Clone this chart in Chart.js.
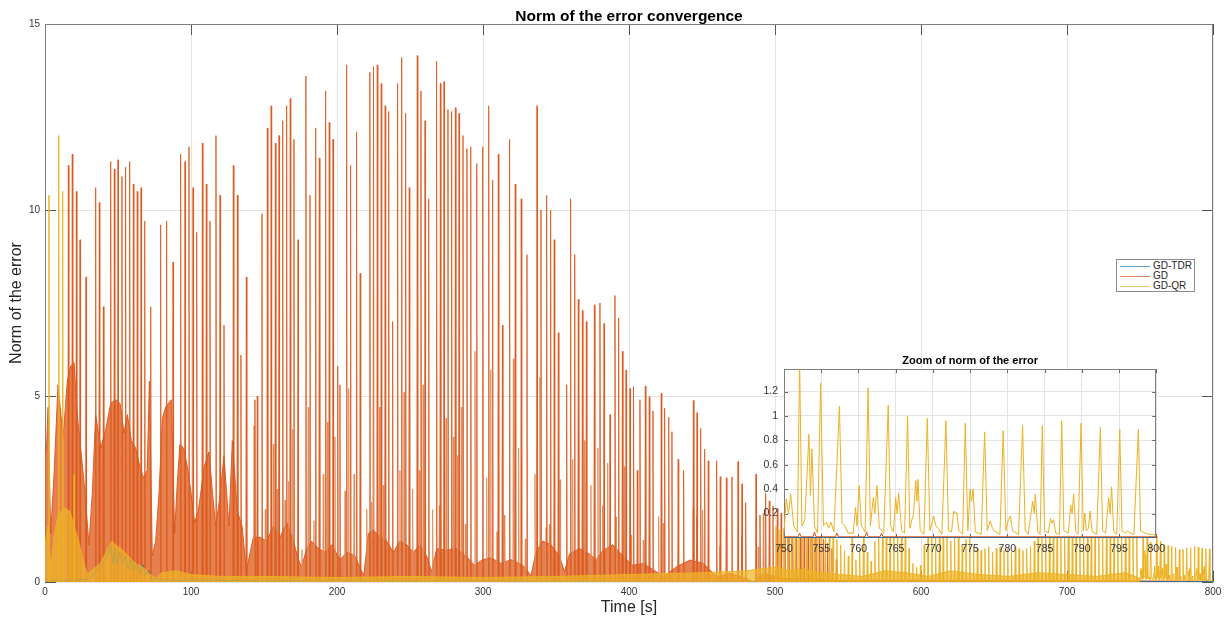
<!DOCTYPE html>
<html>
<head>
<meta charset="utf-8">
<script src="https://cdn.jsdelivr.net/npm/chart.js@4.4.0/dist/chart.umd.min.js"></script>
<style>
html,body{margin:0;padding:0;background:#fff;overflow:hidden}
#wrap{position:relative;width:1230px;height:617px}
#main{position:absolute;left:0;top:0;width:1230px;height:617px}
#inset{position:absolute;left:734px;top:348px;width:436px;height:216px}
#legend{position:absolute;left:1116px;top:259px;width:79px;height:33px;border:1px solid #8c8c8c;background:#fff;box-sizing:border-box;font-family:"Liberation Sans",Arial,sans-serif;font-size:10px;color:#262626}
#legend .row{position:absolute;left:3px;height:10px;line-height:10px;white-space:nowrap}
#legend .ln{display:inline-block;width:30px;height:0;border-top:1px solid;vertical-align:middle;margin-right:3px}
</style>
</head>
<body>
<div id="wrap">
<canvas id="main" width="1230" height="617"></canvas>
<canvas id="inset" width="436" height="216"></canvas>
<div id="legend">
  <div class="row" style="top:1px"><span class="ln" style="border-color:#5fa0d0"></span>GD-TDR</div>
  <div class="row" style="top:11px"><span class="ln" style="border-color:#d98a60"></span>GD</div>
  <div class="row" style="top:21px"><span class="ln" style="border-color:#f0cc70"></span>GD-QR</div>
</div>
</div>
<script>
// ---------------- DATA ----------------
const seriesNames = ['GD-TDR', 'GD', 'GD-QR'];
const xTicks = [0, 100, 200, 300, 400, 500, 600, 700, 800];
const yTicks = [0, 5, 10, 15];
const insetXTicks = [750, 755, 760, 765, 770, 775, 780, 785, 790, 795, 800];
const insetYTicks = [0.2, 0.4, 0.6, 0.8, 1, 1.2];

// GD: tall spikes (time, peak value)
const gdSpikeT = [16.0,18.7,21.5,24.0,28.1,34.7,37.2,40.0,45,47.5,50,52.7,55.2,58,60.5,63.2,65.8,68.3,72.4,79.2,83.3,87.7,92.9,95.9,98.6,101.4,103.9,107.8,110.5,113,117.1,119.9,122.6,129,131.8,134.2,137.9,143.8,145.4,148.6,152.3,154.9,157.8,160.3,162.8,165.5,168,170.5,173.3,178.7,181.5,185.4,187.9,192.2,194.7,197.3,200.5,202,206.6,209.3,213.4,215.9,222.5,225,227.6,230.3,233,235.4,238.1,241.5,244.3,247,249.5,255,257.5,260.3,262.8,268.2,270.8,273.3,276,278.5,281.1,283.6,286.3,289,291.6,295.7,299.8,303.9,306.6,310.5,313.3,318.2,322.1,326.2,330.1,337,339.7,343.6,346.3,348.8,351.6,357.3,360,362.8,365.3,368.1,370.8,376.3,380.1,382.9,387,390.4,392.9,395.5,398,400.7,403.1,405.7,407.5,411.2,413.9,416.4,422.1,424.4,427.2,429.4,433.7,437.4,444.1,446.6,449.1,451.8,454.3,460,462.5,466.7,470.5,474.7,477.4,479.9,487,489.7,493.6,496.1,498.6,501.6,504.2,506.8,509.5,512.1,514.8,517.4,520,522.7,525.3,528,530.6,533.3,536,539,542];
const gdSpikeV = [11.2,11.5,10.5,9.2,8.2,10.6,10.2,7.4,11.3,11.1,11.35,10.9,11.15,11.3,10.7,10.5,10.6,9.7,7.4,9.6,9.7,8.6,11.5,11.3,11.7,10.6,9.4,11.8,10.7,9.7,12.0,10.4,6.9,11.2,10.4,6.1,8.2,4.9,5.0,9.9,12.2,12.8,11.8,12.0,12.4,12.8,13.0,11.9,9.2,13.6,10.4,12.2,11.4,13.2,12.35,11.9,5.8,5.3,13.9,11.2,12.1,8.3,13.7,13.85,13.9,13.4,12.8,12.65,7.0,13.4,14.1,12.6,10.6,14.15,13.2,12.4,10.3,14.0,13.4,13.45,12.7,12.65,12.75,12.6,12.0,11.65,11.7,11.25,11.7,12.8,10.8,11.5,6.9,11.9,10.7,10.3,8.8,12.8,10.0,10.4,10.0,9.2,6.7,5.3,10.3,8.8,7.6,7.3,7.0,7.45,7.5,6.95,4.5,7.7,7.1,6.2,5.7,5.2,5.25,3.0,4.9,5.27,4.98,4.6,5.07,4.67,4.43,4.04,3.3,3.0,4.88,4.55,4.13,3.57,3.26,3.26,2.83,2.8,2.83,3.24,2.64,2.13,2.9,1.8,2.38,2.18,2.04,1.97,1.85,1.75,1.7,1.6,1.55,1.5,1.45,1.4,1.35,1.3,1.25,1.15,1.05,0.9,0.6];

// GD: medium spikes
const gdMidT = [143.2,150.9,156.4,159.1,164.4,166.9,169.6,176.0,180.3,184.2,190.6,193.4,198.6,205.5,208.0,211.7,220.4,223.8,229.1,231.7,243.1,245.9,251.8,256.4,259.0,265.5,270.1,274.7,279.7,282.6,285.2,287.9,294.5,302.5,305.3,309.6,314.6,320.8,324.4,329.0,335.6,339.0,343.2,345.5,352.8,361.4,365.5,369.4,373.9,378.7,381.9,385.4,391.1,396.8,401.4,409.8,420.3,423.5,444.0,446.3,450.4,462.3,477.1,488.5,492.0,503.4];
const gdMidV = [4.2,1.95,3.7,2.5,2.2,2.7,4.1,0.87,4.7,1.65,2.9,4.3,3.9,2.45,5.2,2.9,1.95,2.15,4.7,2.6,3.0,5.1,2.5,3.0,5.3,1.95,2.05,4.4,3.9,3.4,4.7,1.55,6.2,2.8,5.7,1.35,1.8,6.0,3.6,1.16,2.9,5.5,1.46,1.55,2.75,3.3,4.4,3.8,2.6,3.6,2.05,3.2,1.75,3.1,1.26,1.13,1.76,1.58,1.98,1.76,1.94,0.95,1.22,0.95,1.85,1.04];

// GD: upper envelope of the dense oscillating mass
const gdBandT = [0,1.0,2.1,3.9,6.2,8.9,12.4,15.3,17.6,19.9,22.1,24.4,27.2,30.1,32.4,34.7,38.2,41.6,45.0,48.4,51.4,54.1,56.4,59.1,62.1,64.4,67.4,70.0,71.5,73.5,75.8,78.1,80.4,82.6,86.5,88.8,90.5,92.4,95.0,97.5,100.0,102.5,105.0,109.0,112.3,114.5,116.9,119.5,122.6,126.0,128.3,131.7,135.0,138.0,140.0,142.7,147.3,151.8,156.4,161.0,165.5,170.1,173.6,175.8,179.2,182.6,187.2,191.8,196.4,202.0,207.0,212.3,216.2,218.4,221.4,224.9,229.4,234.0,238.6,243.1,247.7,252.3,256.8,261.4,264.8,268.3,274.7,281.5,288.4,294.1,299.8,305.5,312.3,319.2,327.2,332.9,336.3,340.9,346.6,352.3,355.8,359.2,366.1,372.9,377.5,382.1,388.9,395.8,402.6,409.8,419.0,423.5,432.6,441.8,450.9,460.0,469.2,480.6,485.2,492.0,505.7,520,545,560,600,650,700,750,800];
const gdBandV = [3.4,3.6,4.7,1.3,2.9,5.3,3.9,5.4,5.8,5.9,4.5,3.6,2.5,1.0,2.4,4.5,3.6,4.1,4.8,4.9,4.8,4.0,4.5,3.8,3.6,3.2,2.8,3.0,5.4,0.7,1.1,2.4,4.4,4.7,4.9,1.3,2.6,3.7,3.6,3.1,2.4,1.6,1.9,3.1,3.5,2.5,1.5,2.2,3.4,1.5,3.8,1.9,1.5,0.3,0.7,1.2,1.2,1.1,1.5,1.2,1.6,1.1,0.6,0.4,0.9,1.1,0.9,0.8,1.0,0.6,0.8,0.7,0.35,0.18,1.3,1.4,1.2,1.1,0.8,1.1,1.0,0.8,1.0,0.7,0.28,0.9,0.85,0.9,0.7,0.45,0.6,0.65,0.5,0.6,0.45,0.18,0.8,1.1,1.0,0.7,0.28,0.75,0.9,0.75,0.6,0.85,1.0,0.7,0.45,0.5,0.27,0.14,0.41,0.59,0.5,0.14,0.23,0.09,0.0,0.23,0.09,0.08,0.04,0.05,0.05,0.04,0.03,0.03,0.02];

// GD-QR: early tall spikes
const qrSpikeT = [2.7, 9.4, 12.1, 19.9];
const qrSpikeV = [10.4, 12.0, 10.5, 2.9];
// GD-QR: lower envelope band
const qrBandT = [0,2,4,6,9,13,17,20,23,26,29,33,38,43,46,48,52,57,62,67,72,76,80,90,100,120,150,200,250,300,350,400,450,480,500,510,520,530,545,560,575,590,605,620,640,660,680,700,720,740,750];
const qrBandV = [1.0,1.5,0.3,1.2,1.8,2.0,1.9,1.5,1.1,0.6,0.2,0.35,0.5,0.9,1.1,1.0,0.9,0.7,0.5,0.4,0.2,0.1,0.25,0.3,0.2,0.15,0.15,0.12,0.15,0.12,0.15,0.2,0.25,0.3,0.4,0.3,0.35,0.25,0.2,0.15,0.3,0.25,0.15,0.3,0.2,0.15,0.25,0.2,0.15,0.25,0.1];
// GD-QR: periodic spikes 500-750 s
const qrLateT = [500.8,503.4,506.0,508.6,511.2,513.8,516.4,519.0,521.6,524.2,526.8,529.4,532.0,534.6,537.2,539.8,542.4,545.0,547.6,550.2,552.8,555.4,558.0,560.6,563.2,565.8,568.4,571.0,573.6,576.2,578.8,581.4,584.0,586.6,589.2,591.8,594.4,597.0,599.6,602.2,604.8,607.4,610.0,612.6,615.2,617.8,620.4,623.0,625.6,628.2,630.8,633.4,636.0,638.6,641.2,643.8,646.4,649.0,651.6,654.2,656.8,659.4,662.0,664.6,667.2,669.8,672.4,675.0,677.6,680.2,682.8,685.4,688.0,690.6,693.2,695.8,698.4,701.0,703.6,706.2,708.8,711.4,714.0,716.6,719.2,721.8,724.4,727.0,729.6,732.2,734.8,737.4,740.0,742.6,745.2,747.8];
const qrLateV = [1.5,1.4,1.45,1.35,1.4,1.3,1.35,1.3,1.25,1.3,1.2,1.25,1.3,1.2,1.25,1.2,1.15,1.0,0.85,0.7,1.2,0.6,0.9,1.25,0.8,0.55,1.1,1.3,1.25,1.3,1.2,1.25,1.3,1.2,1.25,0.9,0.5,0.4,0.45,1.0,1.25,1.3,1.2,1.25,1.3,1.2,1.1,1.25,1.2,1.0,1.15,1.2,0.95,0.9,0.85,0.9,0.95,0.8,0.9,0.95,0.85,0.9,0.8,0.95,0.9,0.85,0.9,0.95,1.1,1.2,1.25,1.2,1.25,1.3,1.2,1.25,1.2,1.3,1.25,1.2,1.3,1.25,1.2,1.25,1.3,1.2,1.25,1.3,1.25,1.2,1.3,1.25,1.2,1.25,1.3,1.2];

// GD-QR: detailed trace 750-800 s (zoom)
const qrZoomT = [750.0,750.3,750.6,750.9,751.3,751.8,752.1,752.4,752.8,753.35,753.55,753.75,754.1,754.5,754.92,755.3,755.7,756.0,756.3,756.7,757.45,757.8,758.2,758.6,759.3,759.6,759.8,760.1,760.4,760.9,761.3,761.6,762.0,762.2,762.5,762.8,763.4,764.0,764.3,764.7,765.0,765.2,765.4,765.8,766.2,766.6,766.9,767.4,767.7,767.85,768.0,768.3,768.8,769.25,769.6,770.1,770.4,770.7,771.2,771.75,772.1,772.5,772.8,773.0,773.2,773.5,774.0,774.35,774.7,775.0,775.2,775.4,775.7,776.5,776.95,777.3,777.7,778.0,778.4,779.0,779.45,779.8,780.1,780.4,780.7,781.5,782.05,782.4,782.8,783.4,783.6,783.75,784.1,784.4,784.7,785.0,785.5,785.8,786.0,786.2,786.5,787.0,787.3,787.6,788.2,788.5,788.7,788.9,789.2,789.5,789.9,790.2,790.4,790.6,790.9,791.1,791.4,792.0,792.5,792.8,793.2,793.6,793.8,794.0,794.3,794.7,795.1,795.4,795.8,796.2,796.5,797.0,797.6,797.9,798.5,799.0,799.5,800.0];
const qrZoomV = [0.05,0.32,0.2,0.36,0.1,0.05,1.45,0.1,0.15,0.85,0.35,0.73,0.1,0.04,1.27,0.1,0.13,0.08,0.13,0.05,1.08,0.12,0.1,0.04,0.04,0.25,0.1,0.43,0.1,0.05,1.23,0.1,0.33,0.2,0.43,0.08,0.04,1.09,0.1,0.05,0.33,0.2,0.37,0.06,0.04,1.0,0.08,0.2,0.47,0.3,0.48,0.06,0.03,0.98,0.06,0.18,0.1,0.08,0.03,0.96,0.06,0.05,0.22,0.2,0.21,0.06,0.03,0.94,0.06,0.4,0.3,0.4,0.05,0.03,0.87,0.06,0.14,0.08,0.05,0.03,0.88,0.06,0.14,0.18,0.06,0.03,0.92,0.06,0.03,0.3,0.2,0.36,0.05,0.03,0.92,0.06,0.04,0.16,0.12,0.15,0.04,0.03,0.96,0.06,0.04,0.27,0.2,0.36,0.05,0.03,0.94,0.06,0.2,0.06,0.08,0.22,0.05,0.03,0.91,0.06,0.04,0.33,0.2,0.42,0.05,0.03,0.89,0.06,0.04,0.06,0.04,0.03,0.89,0.06,0.04,0.03,0.03,0.02];
// GD in the zoom window
const gdZoomT = [750,751.9,752.1,752.3,753.9,754.1,754.3,756.9,757.1,757.3,760.9,761.1,761.3,762.9,763.1,763.3,770,780,790,800];
const gdZoomV = [0.01,0.01,0.04,0.01,0.01,0.05,0.01,0.01,0.04,0.01,0.01,0.05,0.01,0.01,0.04,0.01,0.01,0.01,0.01,0.01];

// GD-TDR
const tdrT = [0,10,20,30,34,38,41,43,45,46.5,48,49.5,51,53,55,57,59,61,63,65,67,69,71,73,76,80,90,100,150,200,300,400,500,600,700,800];
const tdrV = [0.02,0.05,0.05,0.08,0.25,0.4,0.6,0.75,1.0,0.5,0.9,0.45,0.8,0.5,0.7,0.35,0.6,0.3,0.5,0.25,0.45,0.2,0.3,0.05,0.1,0.06,0.04,0.05,0.03,0.02,0.02,0.01,0.01,0.01,0.01,0.01];

// ---------------- helpers ----------------
const COL_TDR = '#0072BD', COL_GD = '#D95319', COL_QR = '#EDB120';
const FONT = '"Liberation Sans", Arial, Helvetica, sans-serif';
Chart.defaults.font.family = FONT;

function pairs(ts, vs) { return ts.map((t, i) => ({x: t, y: vs[i]})); }
// each spike: rise from the axis to its peak and back down to the axis
function spikes(ts, vs, w) {
  const out = [];
  ts.forEach((t, i) => { out.push({x: t - w, y: 0}, {x: t, y: vs[i]}, {x: t + w, y: 0}); });
  return out;
}

const boxPlugin = {
  id: 'box',
  beforeDraw(chart, args, opts) {
    if (!opts.white) return;
    const a = chart.chartArea, ctx = chart.ctx;
    ctx.save(); ctx.fillStyle = '#fff';
    ctx.fillRect(a.left, a.top, a.right - a.left, a.bottom - a.top);
    ctx.restore();
  },
  beforeDatasetsDraw(chart, args, opts) {
    const {ctx, chartArea: a, scales} = chart;
    const L = opts.len;
    ctx.save();
    ctx.strokeStyle = opts.tickColor; ctx.lineWidth = 1;
    ctx.beginPath();
    opts.xt.forEach(v => {
      const px = Math.round(scales.x.getPixelForValue(v)) + 0.5;
      ctx.moveTo(px, a.top); ctx.lineTo(px, a.top + L);
      ctx.moveTo(px, a.bottom); ctx.lineTo(px, a.bottom - L);
    });
    opts.yt.forEach(v => {
      const py = Math.round(scales.y.getPixelForValue(v)) + 0.5;
      ctx.moveTo(a.left, py); ctx.lineTo(a.left + L, py);
      ctx.moveTo(a.right, py); ctx.lineTo(a.right - L, py);
    });
    ctx.stroke();
    ctx.strokeStyle = opts.color;
    ctx.strokeRect(Math.round(a.left) + 0.5, Math.round(a.top) + 0.5, Math.round(a.right - a.left) - 1, Math.round(a.bottom - a.top) - 1);
    ctx.restore();
  }
};

const lineBase = {pointRadius: 0, borderWidth: 1, tension: 0, fill: false};

// ---------------- main chart ----------------
const qrMain = spikes(qrSpikeT, qrSpikeV, 0.3)
  .concat(spikes(qrLateT, qrLateV, 0.35))
  .concat(pairs(qrZoomT, qrZoomV));

new Chart(document.getElementById('main'), {
  type: 'line',
  data: {
    datasets: [
      Object.assign({}, lineBase, {label: 'GD-QR', data: qrMain, borderColor: 'rgba(237,177,32,0.95)', order: 0}),
      Object.assign({}, lineBase, {label: 'GD-QR band', data: pairs(qrBandT, qrBandV), borderColor: 'rgba(237,177,32,0.9)', backgroundColor: 'rgba(238,180,40,0.72)', fill: 'origin', order: 1}),
      Object.assign({}, lineBase, {label: 'GD-TDR', data: pairs(tdrT, tdrV), borderColor: 'rgba(0,114,189,0.8)', order: 2}),
      Object.assign({}, lineBase, {label: 'GD', data: spikes(gdSpikeT, gdSpikeV, 0.35), borderColor: 'rgba(220,90,30,0.85)', order: 3}),
      Object.assign({}, lineBase, {label: 'GD mid', data: spikes(gdMidT, gdMidV, 0.35), borderColor: 'rgba(222,140,90,0.85)', order: 4}),
      Object.assign({}, lineBase, {label: 'GD band', data: pairs(gdBandT, gdBandV), borderColor: 'rgba(217,83,25,0.9)', backgroundColor: 'rgba(224,100,40,0.82)', fill: 'origin', order: 5})
    ]
  },
  options: {
    responsive: false, animation: false, events: [], devicePixelRatio: 1,
    layout: {padding: {left: 0, right: 17, top: 0, bottom: 0}},
    plugins: {
      legend: {display: false}, tooltip: {enabled: false},
      title: {display: true, fullSize: false, text: 'Norm of the error convergence', color: '#000',
        font: {size: 15.5, weight: 'bold', lineHeight: 1}, padding: {top: 8.5, bottom: 0}},
      box: {len: 11, color: '#7f7f7f', tickColor: '#555', xt: xTicks, yt: yTicks, white: false}
    },
    scales: {
      x: {type: 'linear', min: 0, max: 800,
        afterBuildTicks: s => { s.ticks = xTicks.map(v => ({value: v})); },
        ticks: {autoSkip: false, maxRotation: 0, font: {size: 10}, color: '#333', padding: 4, callback: v => String(v)},
        grid: {color: '#e4e4e4', drawTicks: false}, border: {display: false},
        title: {display: true, text: 'Time [s]', color: '#262626', font: {size: 16, lineHeight: 1.2}, padding: {top: 0, bottom: 0}},
        afterFit: s => { s.height = 35; }},
      y: {type: 'linear', min: 0, max: 15,
        afterBuildTicks: s => { s.ticks = yTicks.map(v => ({value: v})); },
        ticks: {font: {size: 10}, color: '#333', padding: 5, callback: v => String(v)},
        grid: {color: '#e4e4e4', drawTicks: false}, border: {display: false},
        title: {display: true, text: 'Norm of the error', color: '#262626', font: {size: 16, lineHeight: 1.2}, padding: {top: 7, bottom: 0}},
        afterFit: s => { s.width = 45; }}
    }
  },
  plugins: [boxPlugin]
});

// ---------------- inset chart ----------------
new Chart(document.getElementById('inset'), {
  type: 'line',
  data: {
    datasets: [
      Object.assign({}, lineBase, {label: 'GD-QR', data: pairs(qrZoomT, qrZoomV), borderColor: COL_QR, order: 0}),
      Object.assign({}, lineBase, {label: 'GD', data: pairs(gdZoomT, gdZoomV), borderColor: COL_GD, order: 1}),
      Object.assign({}, lineBase, {label: 'GD-TDR', data: pairs([750, 800], [0.004, 0.004]), borderColor: COL_TDR, order: 2})
    ]
  },
  options: {
    responsive: false, animation: false, events: [], devicePixelRatio: 1,
    layout: {padding: {left: 0, right: 12, top: 0, bottom: 0}},
    plugins: {
      legend: {display: false}, tooltip: {enabled: false},
      title: {display: true, fullSize: false, text: 'Zoom of norm of the error', color: '#000',
        font: {size: 11, weight: 'bold', lineHeight: 1}, padding: {top: 7.5, bottom: 2.5}},
      box: {len: 4, color: '#7f7f7f', tickColor: '#666', xt: insetXTicks, yt: insetYTicks, white: true}
    },
    scales: {
      x: {type: 'linear', min: 750, max: 800,
        afterBuildTicks: s => { s.ticks = insetXTicks.map(v => ({value: v})); },
        ticks: {autoSkip: false, maxRotation: 0, font: {size: 10.5}, color: '#333', padding: 5, callback: v => String(v)},
        grid: {color: '#e4e4e4', drawTicks: false}, border: {display: false},
        afterFit: s => { s.height = 26; }},
      y: {type: 'linear', min: 0, max: 1.385,
        afterBuildTicks: s => { s.ticks = insetYTicks.map(v => ({value: v})); },
        ticks: {font: {size: 10.5}, color: '#333', padding: 6, callback: v => String(Math.round(v * 10) / 10)},
        grid: {color: '#e4e4e4', drawTicks: false}, border: {display: false},
        afterFit: s => { s.width = 50; }}
    }
  },
  plugins: [boxPlugin]
});
</script>
</body>
</html>
